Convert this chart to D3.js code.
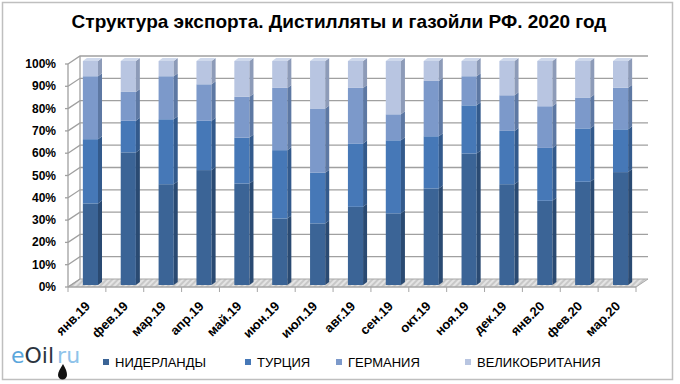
<!DOCTYPE html>
<html>
<head>
<meta charset="utf-8">
<script src="https://cdn.jsdelivr.net/npm/d3@7"></script>
<style>
  html, body { margin: 0; padding: 0; background: #fff; }
  svg { display: block; font-family: "Liberation Sans", Arial, sans-serif; }
</style>
</head>
<body>
<svg id="chart" width="680" height="384"></svg>
<script>
// data (percent of total)
var months = ['янв.19', 'фев.19', 'мар.19', 'апр.19', 'май.19', 'июн.19', 'июл.19', 'авг.19',
  'сен.19', 'окт.19', 'ноя.19', 'дек.19', 'янв.20', 'фев.20', 'мар.20'];
var countries = ['НИДЕРЛАНДЫ', 'ТУРЦИЯ', 'ГЕРМАНИЯ', 'ВЕЛИКОБРИТАНИЯ'];
var netherlands = [36.4, 59.2, 45.0, 51.3, 45.3, 29.7, 27.5, 34.9, 32.0, 43.1, 58.7, 45.0, 37.6, 46.1, 50.4];
var turkey      = [28.7, 14.1, 29.0, 22.0, 20.5, 30.5, 22.6, 28.3, 32.6, 23.3, 21.5, 23.8, 23.6, 23.8, 19.1];
var germany     = [28.1, 12.9, 19.2, 16.3, 18.2, 27.8, 28.7, 24.8, 11.6, 24.7, 13.0, 15.9, 18.6, 13.8, 18.6];
var britain     = [6.8, 13.8, 6.8, 10.4, 16.0, 12.0, 21.2, 12.0, 23.8, 8.9, 6.8, 15.3, 20.2, 16.3, 11.9];
var yTicks = [0, 10, 20, 30, 40, 50, 60, 70, 80, 90, 100];

var fronts = ['#3b6496', '#4678b7', '#7c99ca', '#b8c5e1'];
var sides  = ['#2a4a72', '#335a8c', '#5d78a3', '#8d9bb8'];
var tops   = ['#5a80b0', '#6a93c8', '#9fb5da', '#cfd9ec'];

var svg = d3.select('#chart');

// chart border
svg.append('rect')
  .attr('x', 2.5).attr('y', 2.5).attr('width', 670).attr('height', 377)
  .attr('fill', '#fff').attr('stroke', '#bfbfbf').attr('stroke-width', 1.5);

svg.append('text')
  .attr('x', 339).attr('y', 28)
  .attr('text-anchor', 'middle')
  .attr('font-size', '19px').attr('font-weight', 'bold')
  .text('Структура экспорта. Дистилляты и газойли РФ. 2020 год');

// 3d geometry
var depthX = 12, depthY = -8;
var yFront = d3.scaleLinear().domain([0, 100]).range([287, 64]);
var yBar = d3.scaleLinear().domain([0, 100]).range([285, 61]);
var xBand = d3.scaleBand().domain(months).range([68, 636]).paddingInner(0.6).paddingOuter(0.3);
var xTick = d3.scaleBand().domain(months).range([68, 636]);

var defs = svg.append('defs');
var pat = defs.append('pattern').attr('id', 'hatch')
  .attr('width', 4).attr('height', 4).attr('patternUnits', 'userSpaceOnUse')
  .attr('patternTransform', 'rotate(45)');
pat.append('rect').attr('width', 4).attr('height', 4).attr('fill', '#e4e4e4');
pat.append('rect').attr('width', 2).attr('height', 4).attr('fill', '#c8c8c8');

// floor
var x0 = xTick.range()[0], x1 = xTick.range()[1];
svg.append('path')
  .attr('d', 'M' + x0 + ',' + yFront(0) + 'L' + x1 + ',' + yFront(0) +
    'L' + (x1 + depthX) + ',' + (yFront(0) + depthY) + 'L' + (x0 + depthX) + ',' + (yFront(0) + depthY) + 'Z')
  .attr('fill', 'url(#hatch)').attr('stroke', '#a6a6a6').attr('stroke-width', 1);

// gridlines on side and back wall
var grid = svg.append('g').attr('fill', 'none').attr('stroke', '#a0a0a0').attr('stroke-width', 1.3);
yTicks.forEach(function (t) {
  var yf = yFront(t), yb = yFront(t) + depthY;
  grid.append('path').attr('d', 'M' + x0 + ',' + yf + 'L' + (x0 + depthX) + ',' + yb + (t > 0 ? 'L' + (x1 + depthX) + ',' + yb : ''));
  grid.append('line').attr('x1', x0 - 3).attr('x2', x0).attr('y1', yf).attr('y2', yf);
});
grid.append('line').attr('x1', x0).attr('x2', x0).attr('y1', yFront(0)).attr('y2', yFront(100));
grid.append('line').attr('x1', x0 + depthX).attr('x2', x0 + depthX).attr('y1', yFront(0) + depthY).attr('y2', yFront(100) + depthY);

// x ticks
var ticks = svg.append('g').attr('stroke', '#a6a6a6').attr('stroke-width', 1);
ticks.append('line').attr('x1', x0).attr('x2', x1).attr('y1', yFront(0)).attr('y2', yFront(0));
months.concat(['end']).forEach(function (m, i) {
  var tx = i < months.length ? xTick(m) : x1;
  ticks.append('line').attr('x1', tx).attr('x2', tx).attr('y1', yFront(0)).attr('y2', yFront(0) + 5);
});

// y labels
svg.append('g').selectAll('text').data(yTicks).join('text')
  .attr('x', 56).attr('y', function (d) { return yFront(d) + 4; })
  .attr('text-anchor', 'end').attr('font-size', '12px').attr('font-weight', 'bold')
  .text(function (d) { return d + '%'; });

// stacked data
var rows = months.map(function (m, i) {
  return { month: m, 'НИДЕРЛАНДЫ': netherlands[i], 'ТУРЦИЯ': turkey[i], 'ГЕРМАНИЯ': germany[i], 'ВЕЛИКОБРИТАНИЯ': britain[i] };
});
var series = d3.stack().keys(countries)(rows);

var bw = xBand.bandwidth(), sx = 4, sy = -3, shift = 3.5;
var bars = svg.append('g');
series.forEach(function (s, k) {
  s.forEach(function (d) {
    var bx = xBand(d.data.month) + shift;
    var yT = yBar(d[1]), yB = yBar(d[0]);
    var g = bars.append('g');
    g.append('rect').attr('x', bx).attr('y', yT).attr('width', bw).attr('height', yB - yT).attr('fill', fronts[k]);
    g.append('path')
      .attr('d', 'M' + (bx + bw) + ',' + yB + 'L' + (bx + bw + sx) + ',' + (yB + sy) + 'L' + (bx + bw + sx) + ',' + (yT + sy) + 'L' + (bx + bw) + ',' + yT + 'Z')
      .attr('fill', sides[k]);
    if (k === countries.length - 1) {
      g.append('path')
        .attr('d', 'M' + bx + ',' + yT + 'L' + (bx + sx) + ',' + (yT + sy) + 'L' + (bx + bw + sx) + ',' + (yT + sy) + 'L' + (bx + bw) + ',' + yT + 'Z')
        .attr('fill', tops[k]);
    }
  });
});

// x labels
svg.append('g').selectAll('text').data(months).join('text')
  .attr('transform', function (d) { return 'translate(' + (xTick(d) + xTick.bandwidth() / 2 + 4) + ',307) rotate(-45)'; })
  .attr('text-anchor', 'end').attr('font-size', '13px').attr('font-weight', 'bold')
  .text(function (d) { return d; });

// legend
var legendX = [103, 245, 336, 465];
var legend = svg.append('g').selectAll('g').data(countries).join('g')
  .attr('transform', function (d, i) { return 'translate(' + legendX[i] + ',362)'; });
legend.append('rect').attr('x', 0).attr('y', -3).attr('width', 6).attr('height', 6)
  .attr('fill', function (d, i) { return fronts[i]; });
legend.append('text').attr('x', 12).attr('y', 4.5).attr('font-size', '13px')
  .text(function (d) { return d; });

// logo
var logo = svg.append('text').attr('x', 11).attr('y', 363)
  .attr('font-family', '"DejaVu Sans", Verdana, sans-serif').attr('font-size', '22px');
logo.append('tspan').attr('fill', '#5aa6dc').text('e');
logo.append('tspan').attr('fill', '#2b3440').text('Oil');
logo.append('tspan').attr('fill', '#8fc3ea').attr('dx', 3).text('ru');
svg.append('path')
  .attr('d', 'M63,364 C60,369 58,372 58,375 A4.5,4.5 0 0 0 67,375 C67,372 66,369 63,364 Z')
  .attr('fill', '#111');
</script>
</body>
</html>
